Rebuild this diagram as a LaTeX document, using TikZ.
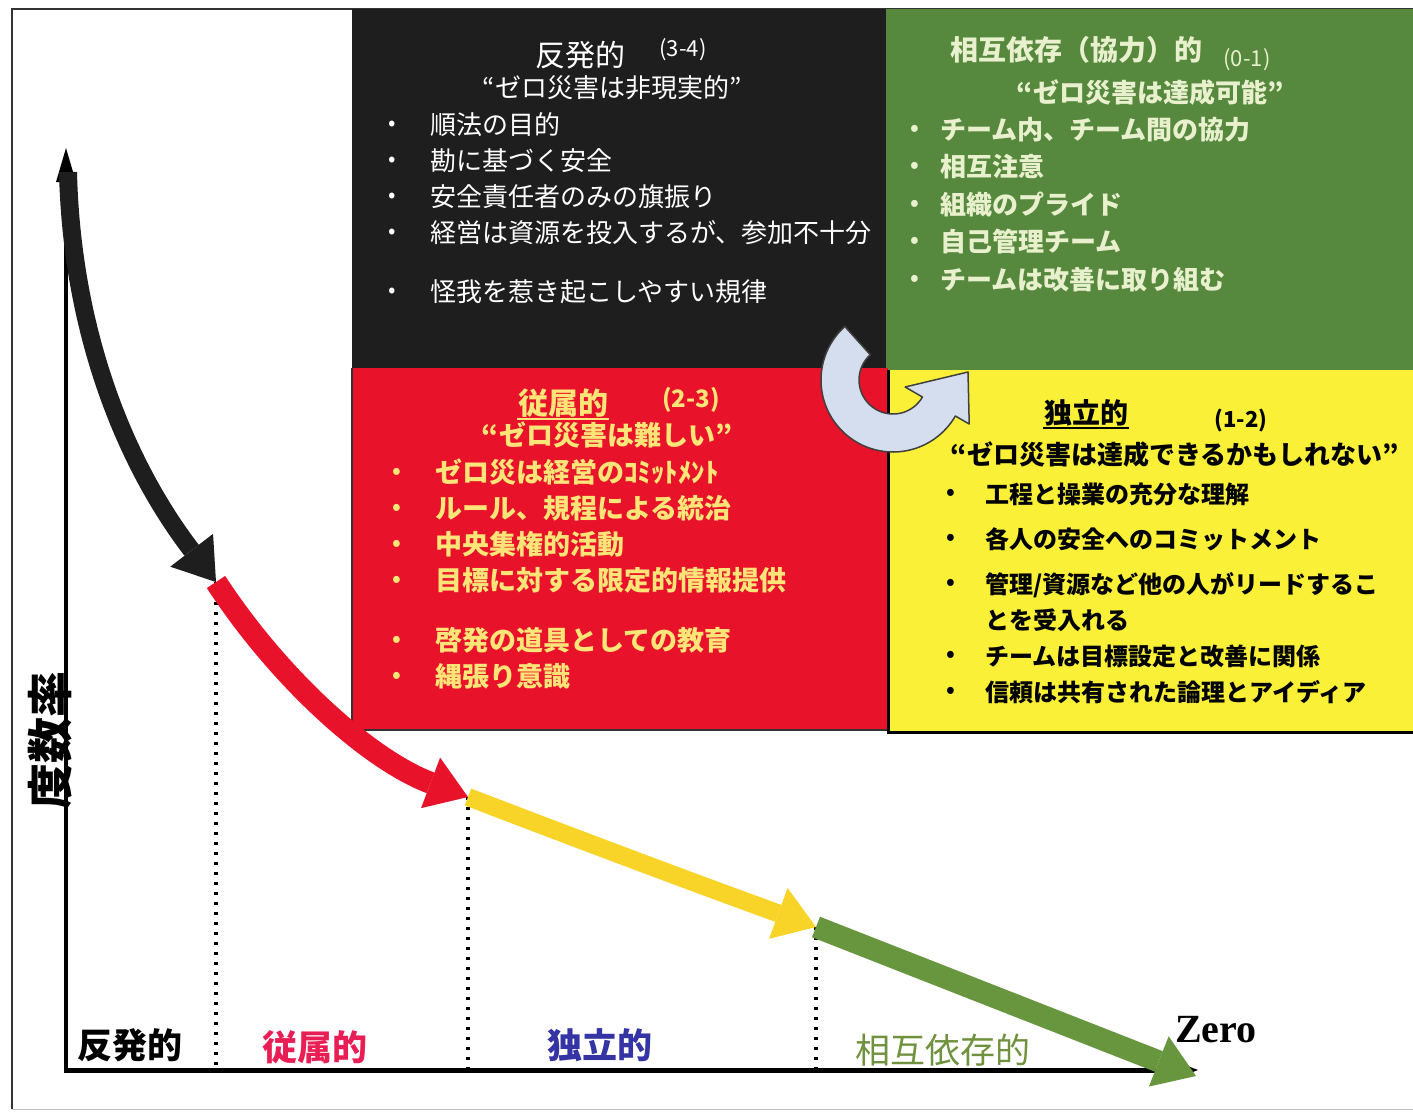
\documentclass[tikz,border=0pt]{standalone}
\usepackage{fontspec}
\setmainfont{Noto Sans CJK JP}
\newfontfamily\zerofont{Liberation Serif}
\usetikzlibrary{arrows.meta,positioning,calc}

\definecolor{reactblk}{RGB}{30,30,30}
\definecolor{teamgrn}{RGB}{86,136,62}
\definecolor{deptred}{RGB}{232,18,42}
\definecolor{indyel}{RGB}{250,240,55}
\definecolor{paleyel}{RGB}{255,228,120}
\definecolor{cream}{RGB}{232,240,205}
\definecolor{curveyel}{RGB}{248,212,40}
\definecolor{curvegrn}{RGB}{104,150,62}
\definecolor{uturnblu}{RGB}{212,222,238}
\definecolor{lblpink}{RGB}{232,30,84}
\definecolor{lblblue}{RGB}{52,52,165}
\definecolor{lblgrn}{RGB}{112,146,62}

\newcommand{\bul}{\raisebox{4pt}{\fontsize{22}{22}\selectfont •}}
\newcommand{\itm}[2]{\makebox[#1][l]{\bul}#2}

\begin{document}
\begin{tikzpicture}[x=1pt, y=-1pt,
    panel/.style={anchor=north west, inner sep=0pt, outer sep=0pt},
    hdtext/.style={inner sep=1pt, font=\fontsize{30}{30}\selectfont},
    scoretext/.style={inner sep=0pt, font=\fontsize{22}{22}\selectfont},
    mottotext/.style={inner sep=0pt, font=\fontsize{26}{26}\selectfont},
    items/.style={anchor=north west, align=left, inner sep=0pt},
    bandline/.style={line width=#1, -{Triangle[length=40pt,width=54pt,line width=0pt]}},
    stagelbl/.style={inner sep=0pt, font=\fontsize{35}{35}\selectfont\bfseries},
    uturn/.style={fill=uturnblu, draw=black!75, line width=1.5pt, line join=round}
]
\fill[white] (0,0) rectangle (1413,1117);
\useasboundingbox (0,0) rectangle (1413,1117);

% outer frame
\draw[line width=2.5pt, black!80] (1413,9) -- (12,9) -- (12,1109);
\draw[line width=1pt, black!25] (12,1109) -- (1413,1109);

% the four panels
\node[panel, fill=reactblk, minimum width=534pt, minimum height=359pt] (reactive) at (352,9) {};
\node[panel, fill=teamgrn, minimum width=527pt, minimum height=361pt] (interdep) at (886,9) {};
\node[panel, fill=deptred, minimum width=536pt, minimum height=362pt] (depend) at (352,368) {};
\node[panel, fill=indyel, minimum width=525pt, minimum height=362pt] (indep) at (888,370) {};
\draw[line width=2pt, black!80] (depend.north west) -- (depend.south west) -- (depend.south east);
\draw[line width=3pt, black] (indep.north west) -- (indep.south west) -- (indep.south east);

% turn-around arrow between the panels
\coordinate (uc) at (893,380);
\draw[uturn] ([shift={(uc)}]132:72pt) arc[start angle=132, end angle=330, radius=72pt]
  -- ([shift={(uc)}]330:88pt) -- (968,372) -- ([shift={(uc)}]330:14pt)
  -- ([shift={(uc)}]330:34pt) arc[start angle=330, end angle=132, radius=34pt] -- cycle;

% reactive
\node[hdtext, text=white] (reacthd) at (580,55) {反発的};
\node[scoretext, text=white] (reactsc) at (683,50) {(3-4)};
\node[mottotext, text=white] (reactmot) at (612,88) {“ゼロ災害は非現実的”};
\node[items, text=white, font=\fontsize{26}{36}\selectfont] (reactlst) at (388,112) {%
  \itm{42pt}{順法の目的}\\
  \itm{42pt}{勘に基づく安全}\\
  \itm{42pt}{安全責任者のみの旗振り}\\
  \itm{42pt}{経営は資源を投入するが、参加不十分}\\[23pt]
  \itm{42pt}{怪我を惹き起こしやすい規律}};

% interdependent
\node[hdtext, text=cream, font=\fontsize{28}{28}\selectfont\bfseries] (teamhd) at (1076,50) {相互依存（協力）的};
\node[scoretext, text=cream] (teamsc) at (1247,60) {(0-1)};
\node[mottotext, text=cream, font=\fontsize{26}{26}\selectfont\bfseries] (teammot) at (1150,93) {“ゼロ災害は達成可能”};
\node[items, text=cream, font=\fontsize{26}{37.5}\selectfont\bfseries] (teamlst) at (910,117) {%
  \itm{30pt}{チーム内、チーム間の協力}\\
  \itm{30pt}{相互注意}\\
  \itm{30pt}{組織のプライド}\\
  \itm{30pt}{自己管理チーム}\\
  \itm{30pt}{チームは改善に取り組む}};

% dependent
\node[hdtext, text=paleyel, font=\fontsize{30}{30}\selectfont\bfseries] (dephd) at (563,403) {従属的};
\draw[line width=2pt, paleyel] (dephd.south west) -- (dephd.south east);
\node[scoretext, text=paleyel, font=\fontsize{24}{24}\selectfont\bfseries] (depsc) at (691,400) {(2-3)};
\node[mottotext, text=paleyel, font=\fontsize{27}{27}\selectfont\bfseries] (depmot) at (607,435) {“ゼロ災害は難しい”};
\node[items, text=paleyel, font=\fontsize{27}{36}\selectfont\bfseries] (deplst) at (392,459) {%
  \itm{43pt}{ゼロ災は経営のｺﾐｯﾄﾒﾝﾄ}\\
  \itm{43pt}{ルール、規程による統治}\\
  \itm{43pt}{中央集権的活動}\\
  \itm{43pt}{目標に対する限定的情報提供}\\[24pt]
  \itm{43pt}{啓発の道具としての教育}\\
  \itm{43pt}{縄張り意識}};

% independent
\node[hdtext, text=black, font=\fontsize{28}{28}\selectfont\bfseries] (indhd) at (1086,413) {独立的};
\draw[line width=2pt, black] (indhd.south west) -- (indhd.south east);
\node[scoretext, text=black, font=\fontsize{22}{22}\selectfont\bfseries] (indsc) at (1241,420) {(1-2)};
\node[mottotext, text=black, font=\fontsize{26}{26}\selectfont\bfseries] (indmot) at (1175,455) {“ゼロ災害は達成できるかもしれない”};
\node[items, text=black, font=\fontsize{24}{36}\selectfont\bfseries] (indlst) at (946,483) {%
  \itm{39pt}{工程と操業の充分な理解}\\[9pt]
  \itm{39pt}{各人の安全へのコミットメント}\\[9pt]
  \itm{39pt}{管理/資源など他の人がリードするこ}\\
  \makebox[39pt]{}とを受入れる\\
  \itm{39pt}{チームは目標設定と改善に関係}\\
  \itm{39pt}{信頼は共有された論理とアイディア}};

% axes
\coordinate (orig) at (66,1070);
\coordinate (ytop) at (66,148);
\coordinate (xend) at (1198,1070);
\draw[line width=4pt, -{Triangle[length=34pt,width=20pt,line width=0pt]}] (orig) -- (ytop);
\draw[line width=5pt, -{Triangle[length=26pt,width=20pt,line width=0pt]}] ([xshift=-2pt]orig) -- (xend);
\node[font=\fontsize{46}{46}\selectfont\bfseries, rotate=90, inner sep=0pt] (ylab) at (50,740) {度数率};

% curve break points
\coordinate (c0) at (68,172);
\coordinate (c1) at (216,582);
\coordinate (c2) at (468,797);
\coordinate (c3) at (816,927);
\coordinate (c4) at (1196,1076);

\foreach \p in {c1,c2,c3}
  \draw[line width=3.5pt, dash pattern=on 3pt off 7pt] (\p) -- (\p |- orig);

\draw[bandline=18pt, reactblk] (c0) .. controls (72,340) and (130,470) .. (c1);
\draw[bandline=22pt, deptred] (c1) .. controls (280,680) and (370,760) .. (c2);
\draw[bandline=18pt, curveyel] (c2) .. controls (580,840) and (700,885) .. (c3);
\draw[bandline=22pt, curvegrn] (c3) -- (c4);

% stage labels
\node[stagelbl] (lblreact) at (130,1045) {反発的};
\node[stagelbl, text=lblpink] (lbldep) at (315,1047) {従属的};
\node[stagelbl, text=lblblue] (lblind) at (600,1045) {独立的};
\node[stagelbl, text=lblgrn, font=\fontsize{35}{35}\selectfont] (lblteam) at (943,1050) {相互依存的};
\node[inner sep=0pt, font=\fontsize{40}{40}\zerofont\bfseries] (zero) at (1216,1030) {Zero};
\end{tikzpicture}
\end{document}
